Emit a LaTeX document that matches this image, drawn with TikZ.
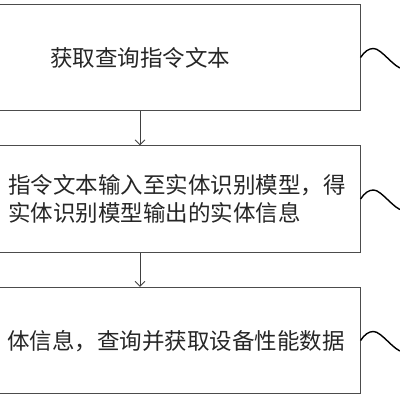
\documentclass[tikz,border=0pt]{standalone}
\usepackage{fontspec}
\usetikzlibrary{arrows.meta}
\newfontfamily\cjk{Noto Sans CJK SC}
\tikzset{
  stepbox/.style={draw=black!70, line width=0.7pt, minimum width=11cm, minimum height=2.65cm,
    font=\cjk\fontsize{16}{20}\selectfont, text=black!85},
  steptext/.style={anchor=west, align=left, inner sep=0pt,
    font=\cjk\fontsize{16}{20}\selectfont, text=black!85},
  wave/.style={line width=1pt},
  flow/.style={-{Straight Barb[length=3.5pt,width=7pt]}, black!75, line width=0.7pt},
}
\begin{document}
\begin{tikzpicture}[x=0.025cm, y=-0.025cm]
  \useasboundingbox (0,0) rectangle (400,400);
  \node[stepbox] (s1) at (140,57.5) {获取查询指令文本};
  \node[stepbox] (s2) at (140,199) {};
  \node[stepbox] (s3) at (140,340.5) {};
  \node[steptext] (t2) at (8,199) {指令文本输入至实体识别模型，得\\实体识别模型输出的实体信息};
  \node[steptext] (t3) at (7,341) {体信息，查询并获取设备性能数据};
  \draw[flow] (s1) -- (s2);
  \draw[flow] (s2) -- (s3);
  % wavy leaders to the step labels
  \foreach \s in {s1,s2,s3} {
    \coordinate (\s-end) at ([shift={(42,11)}]\s.east);
    \draw[wave] (\s.east) .. controls +(4,-6) and +(-5,0) .. ([shift={(13,-9)}]\s.east)
      .. controls +(8,0) and +(-8,0) .. (\s-end);
  }
\end{tikzpicture}
\end{document}
